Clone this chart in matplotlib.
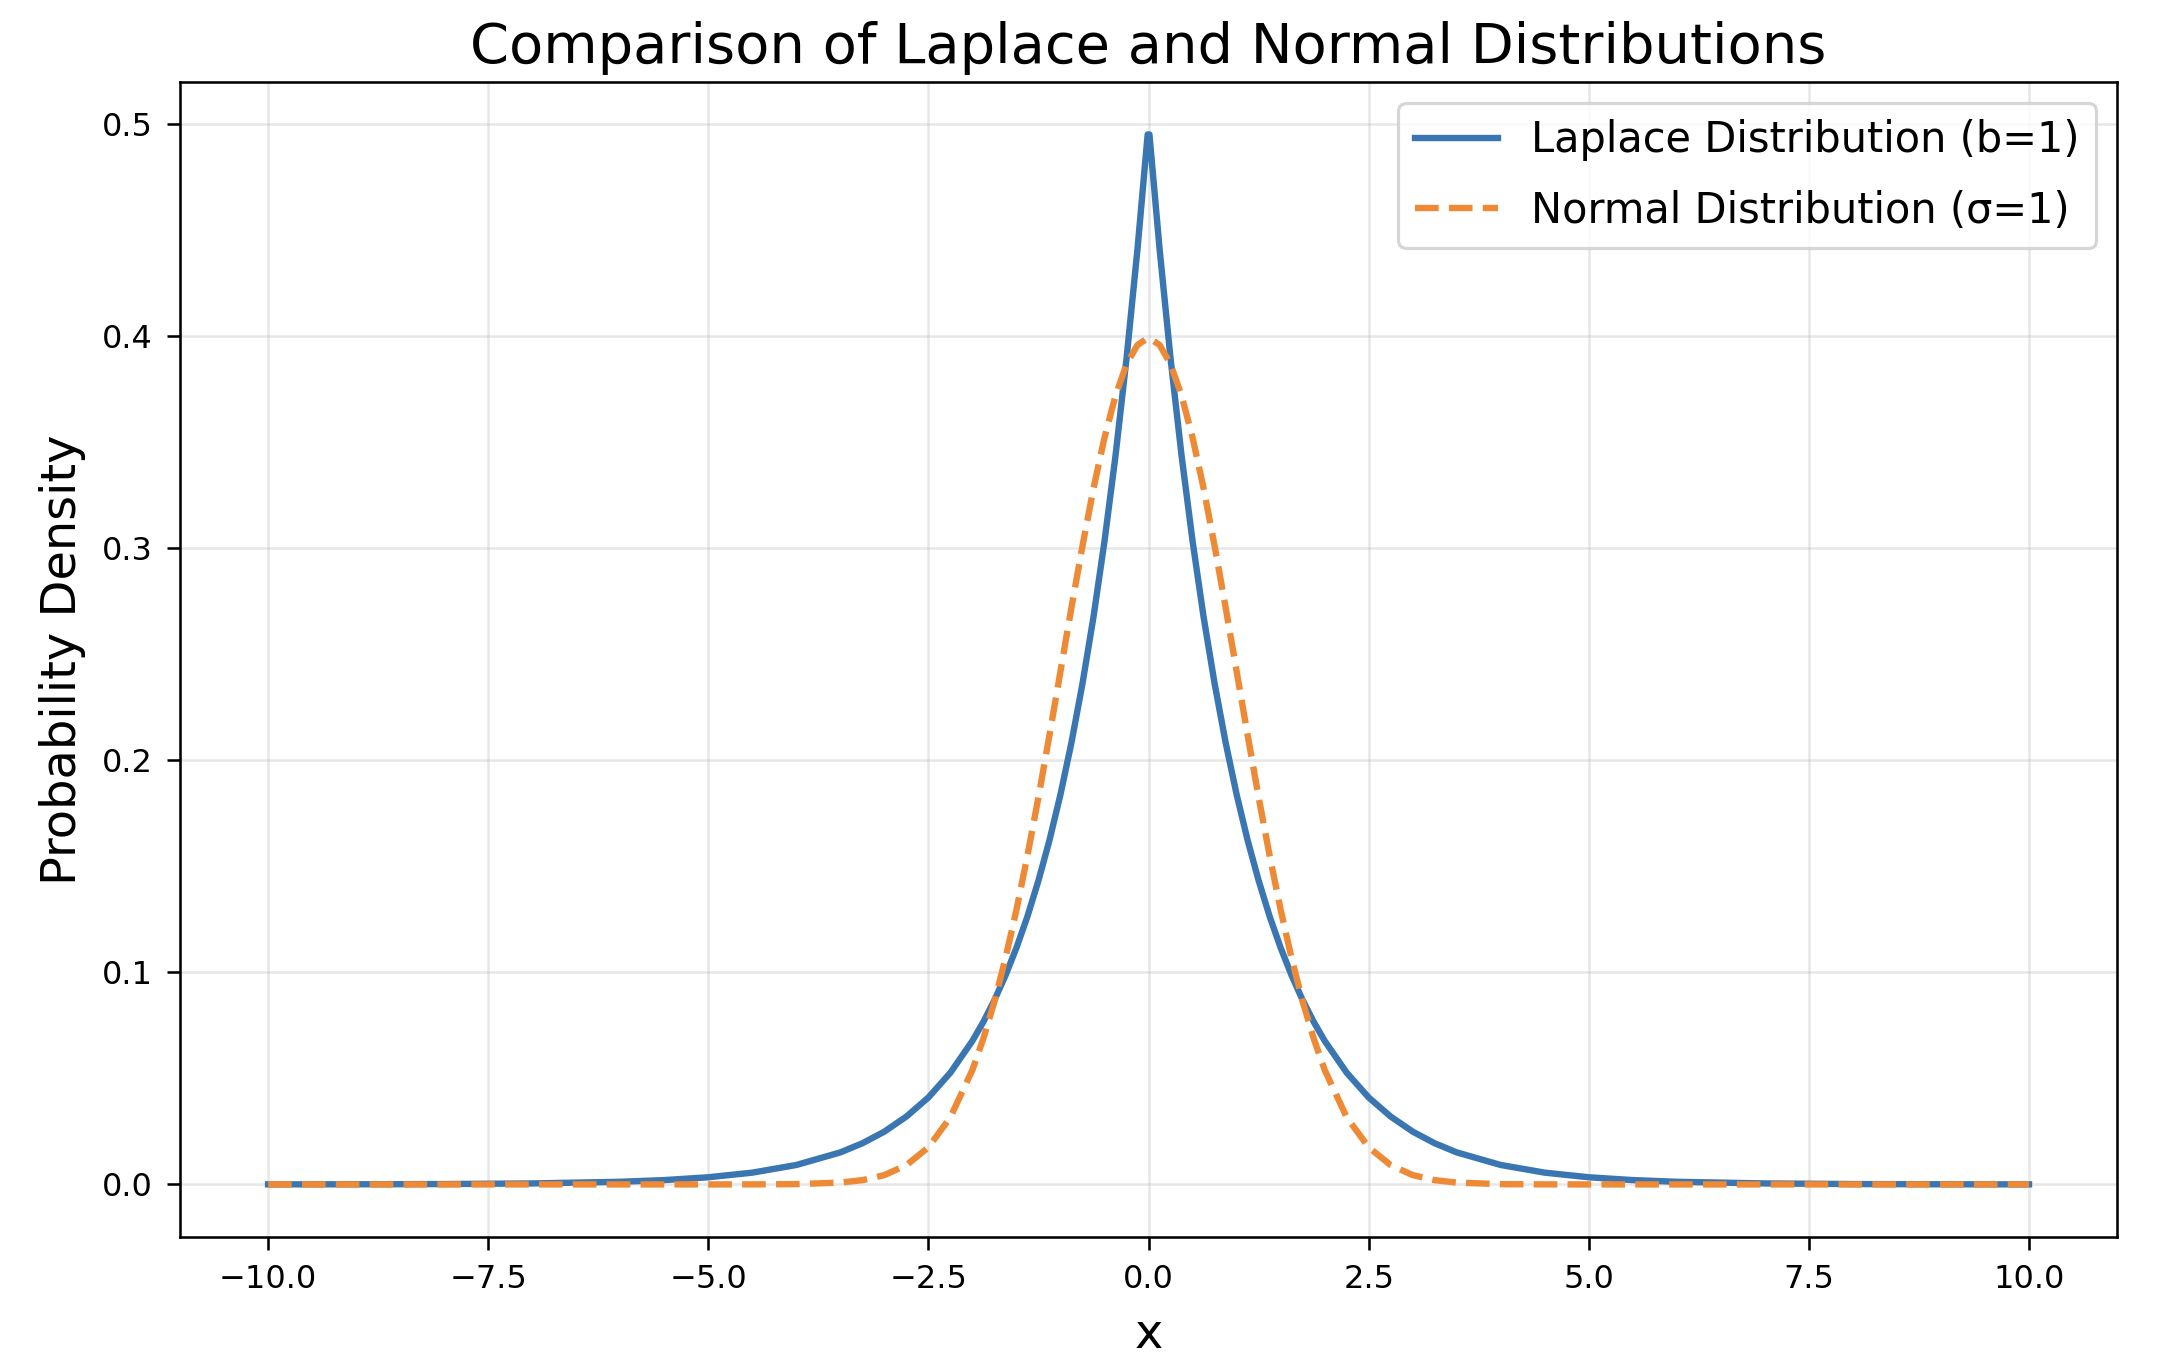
import matplotlib
matplotlib.use("Agg")
import matplotlib.pyplot as plt

# x positions and density values
x_vals = [-10, -9, -8, -7, -6, -5.5, -5, -4.5, -4, -3.5, -3.25, -3, -2.75, -2.5, -2.25,
          -2, -1.875, -1.75, -1.625, -1.5, -1.375, -1.25, -1.125, -1, -0.875, -0.75,
          -0.625, -0.5, -0.375, -0.25, -0.125, -0.01,
          0.01, 0.125, 0.25, 0.375, 0.5, 0.625, 0.75, 0.875, 1, 1.125, 1.25, 1.375,
          1.5, 1.625, 1.75, 1.875, 2, 2.25, 2.5, 2.75, 3, 3.25, 3.5, 4, 4.5, 5, 5.5,
          6, 7, 8, 9, 10]

laplace_pdf = [0.00002, 0.00006, 0.00017, 0.00046, 0.00124, 0.00204, 0.00337, 0.00555,
               0.00916, 0.0151, 0.0194, 0.0249, 0.0320, 0.0410, 0.0527,
               0.0677, 0.0767, 0.0869, 0.0985, 0.1116, 0.1264, 0.1433, 0.1623, 0.1839,
               0.2084, 0.2362, 0.2676, 0.3033, 0.3436, 0.3894, 0.4412, 0.4950,
               0.4950, 0.4412, 0.3894, 0.3436, 0.3033, 0.2676, 0.2362, 0.2084, 0.1839,
               0.1623, 0.1433, 0.1264, 0.1116, 0.0985, 0.0869, 0.0767, 0.0677, 0.0527,
               0.0410, 0.0320, 0.0249, 0.0194, 0.0151, 0.00916, 0.00555, 0.00337, 0.00204,
               0.00124, 0.00046, 0.00017, 0.00006, 0.00002]

normal_pdf = [0.0, 0.0, 0.0, 0.0, 0.0, 0.0, 0.0000015, 0.000016,
              0.00013, 0.00087, 0.0020, 0.0044, 0.0091, 0.0175, 0.0317,
              0.0540, 0.0689, 0.0863, 0.1066, 0.1295, 0.1551, 0.1826, 0.2119, 0.2420,
              0.2721, 0.3011, 0.3282, 0.3521, 0.3719, 0.3867, 0.3958, 0.3989,
              0.3989, 0.3958, 0.3867, 0.3719, 0.3521, 0.3282, 0.3011, 0.2721, 0.2420,
              0.2119, 0.1826, 0.1551, 0.1295, 0.1066, 0.0863, 0.0689, 0.0540, 0.0317,
              0.0175, 0.0091, 0.0044, 0.0020, 0.00087, 0.00013, 0.000016, 0.0000015, 0.0,
              0.0, 0.0, 0.0, 0.0, 0.0]

DPI = 230


def main() -> None:
    fig = plt.figure(figsize=(2164 / DPI, 1366 / DPI), dpi=DPI)
    ax = fig.add_axes([0.0832, 0.0945, 0.8951, 0.8455])

    ax.plot(x_vals, laplace_pdf, color='#3a76b2', linewidth=2,
            label='Laplace Distribution (b=1)')
    ax.plot(x_vals, normal_pdf, color='#ee8a35', linewidth=2, linestyle='--',
            label='Normal Distribution (σ=1)')

    ax.set_title("Comparison of Laplace and Normal Distributions", fontsize=17.5)
    ax.set_xlabel("x", fontsize=15, labelpad=5)
    ax.set_ylabel("Probability Density", fontsize=15, labelpad=5)
    ax.tick_params(labelsize=10, length=4, pad=4.5)
    ax.grid(True, alpha=0.3)
    ax.legend(fontsize=13, loc='upper right', labelspacing=0.68)

    fig.savefig("out.png", dpi=DPI)


if __name__ == "__main__":
    main()
